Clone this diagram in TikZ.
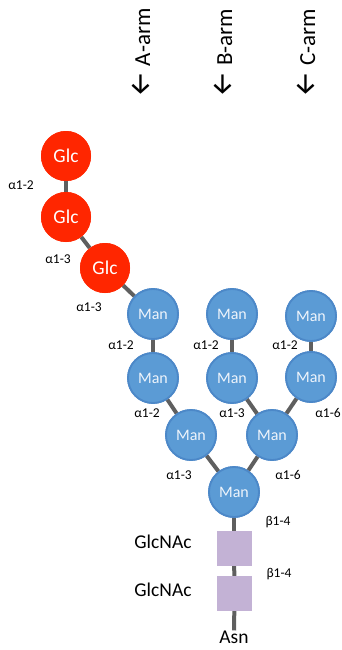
\documentclass[tikz,border=0pt]{standalone}
\usepackage{fontspec}
\setmainfont{Carlito}
\newfontfamily\arrowfont{Fira Sans}
\definecolor{glcred}{HTML}{FF2600}
\definecolor{manblue}{HTML}{5B9BD5}
\definecolor{manedge}{HTML}{4C88C8}
\definecolor{mantext}{HTML}{EEF4FB}
\definecolor{nacpurple}{HTML}{C3B2D5}
\definecolor{bondgray}{HTML}{5F5F5F}
\begin{document}
\begin{tikzpicture}[x=1pt,y=-1pt,
  glc/.style={circle,fill=glcred,minimum size=50pt,inner sep=0pt,text=white,font=\fontsize{19.5}{20}\selectfont},
  man/.style={circle,fill=manblue,draw=manedge,line width=1.8pt,minimum size=50pt,inner sep=0pt,text=mantext,font=\fontsize{16}{16}\selectfont},
  nac/.style={rectangle,fill=nacpurple,minimum size=35pt,inner sep=0pt},
  bond/.style={draw=bondgray,line width=4pt},
  link/.style={font=\fontsize{13.5}{14}\selectfont,inner sep=0pt},
  big/.style={font=\fontsize{19.5}{20}\selectfont,inner sep=0pt},
  arm/.style={rotate=90,font=\fontsize{23}{23}\selectfont,inner sep=0pt}]
\useasboundingbox (0,0) rectangle (342,650);

% arm labels (read bottom to top, arrow pointing down)
\newcommand{\armtip}{{\arrowfont\fontsize{29}{29}\selectfont ←}}
\node[arm] (armA) at (141,53) {\armtip\ A-arm};
\node[arm] (armB) at (223,53) {\armtip\ B-arm};
\node[arm] (armC) at (306,53) {\armtip\ C-arm};

% residue positions
\coordinate (g1p) at (66,156);
\coordinate (g2p) at (66,217);
\coordinate (g3p) at (105,268);
\node[glc] (g1) at (g1p) {};
\node[glc] (g2) at (g2p) {};
\node[glc] (g3) at (g3p) {};

\node[man] (a1) at (153,314) {};
\node[man] (a2) at (153,378) {};
\node[man] (a3) at (191,435) {};
\node[man] (b1) at (232,314) {};
\node[man] (b2) at (232,378) {};
\node[man] (b3) at (272,435) {};
\node[man] (c1) at (311,316) {};
\node[man] (c2) at (311,377) {};
\node[man] (core) at (234,492) {};

\node[nac] (n1) at (234,548.5) {};
\node[nac] (n2) at (234.5,593.5) {};
\node[big] (asn) at (234,637) {Asn};

% bonds
\draw[bond] (g1) -- (g2);
\draw[bond] (g2) -- (g3);
\draw[bond] (g3) -- (a1);
\draw[bond] (a1) -- (a2);
\draw[bond] (a2) -- (a3);
\draw[bond] (b1) -- (b2);
\draw[bond] (b2) -- (b3);
\draw[bond] (c1) -- (c2);
\draw[bond] (c2) -- (b3);
\draw[bond] (a3) -- (core);
\draw[bond] (b3) -- (core);
\draw[bond] (core) -- (n1);
\draw[bond] (n1) -- (n2);
\draw[bond] (n2) -- (asn);

% residues drawn again above the bonds, with their names
\node[glc] at (g1p) {Glc};
\node[glc] at (g2p) {Glc};
\node[glc] at (g3p) {Glc};
\foreach \p in {a1,a2,a3,b1,b2,b3,c1,c2,core}
  \node[man] at (\p) {Man};
\node[nac] at (n1) {};
\node[nac] at (n2) {};

% linkage labels
\node[link] (l1) at (21,185) {α1-2};
\node[link] (l2) at (58,259) {α1-3};
\node[link] (l3) at (89,307) {α1-3};
\node[link] (l4) at (121,345) {α1-2};
\node[link] (l5) at (206,345) {α1-2};
\node[link] (l6) at (285,345) {α1-2};
\node[link] (l7) at (147,413) {α1-2};
\node[link] (l8) at (232,413) {α1-3};
\node[link] (l9) at (328,413) {α1-6};
\node[link] (l10) at (179,475) {α1-3};
\node[link] (l11) at (288,475) {α1-6};
\node[link] (l12) at (278,522) {β1-4};
\node[link] (l13) at (279,574) {β1-4};

\node[big] (t1) at (163,542) {GlcNAc};
\node[big] (t2) at (163,590) {GlcNAc};
\end{tikzpicture}
\end{document}
